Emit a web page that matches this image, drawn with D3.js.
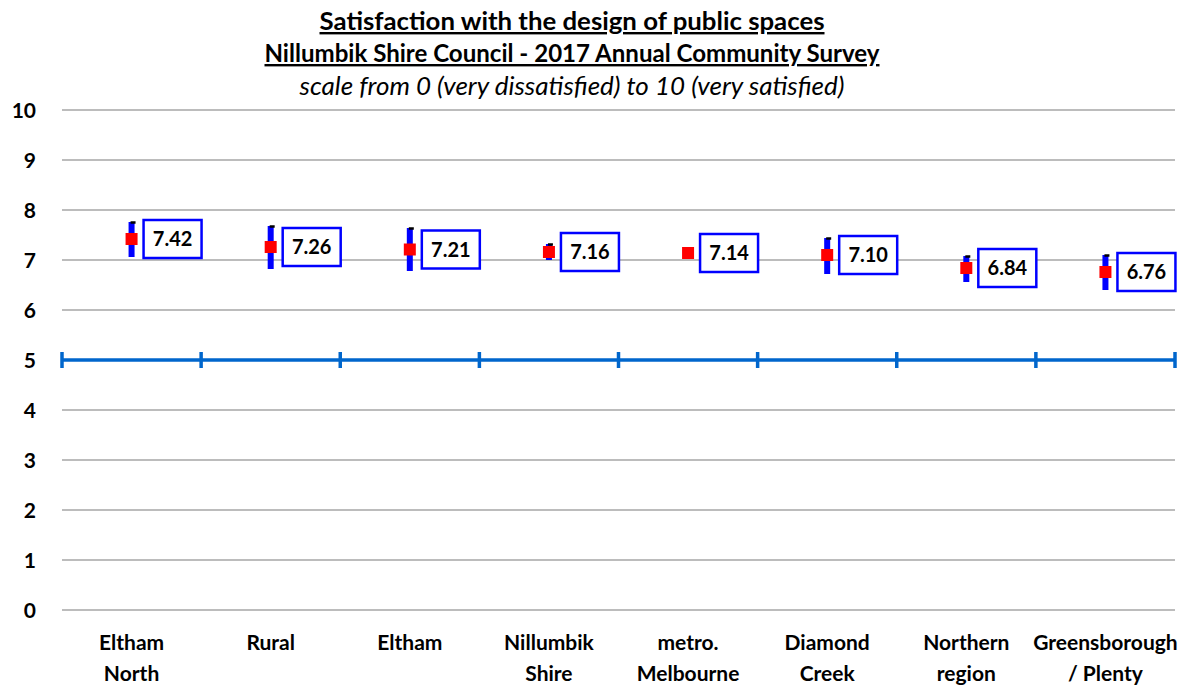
<!DOCTYPE html>
<html><head><meta charset="utf-8">
<script src="https://cdn.jsdelivr.net/npm/d3@7"></script>
<style>body{margin:0;background:#fff;} text{font-family:Lato,"Open Sans",sans-serif;}</style>
</head><body><svg id="c" width="1199" height="686"></svg>
<script>
const categories = [["Eltham","North"],["Rural"],["Eltham"],["Nillumbik","Shire"],["metro.","Melbourne"],["Diamond","Creek"],["Northern","region"],["Greensborough","/ Plenty"]];
const means = [7.42, 7.26, 7.21, 7.16, 7.14, 7.10, 6.84, 6.76];
const lows  = [7.06, 6.82, 6.78, 7.00, 7.06, 6.72, 6.56, 6.40];
const highs = [7.76, 7.68, 7.64, 7.32, 7.22, 7.44, 7.08, 7.10];
const yTicks = [0,1,2,3,4,5,6,7,8,9,10];
const benchmark = 5;
const titleLines = ["Satisfaction with the design of public spaces","Nillumbik Shire Council - 2017 Annual Community Survey"];
const subtitle = "scale from 0 (very dissatisfied) to 10 (very satisfied)";

const svg = d3.select("#c");
const pL = 62, pR = 1175, pT = 110, pB = 610;
const x = d3.scaleBand().domain(d3.range(categories.length)).range([pL, pR]).padding(0);
const y = d3.scaleLinear().domain([0,10]).range([pB, pT]);

// gridlines
svg.append("g").selectAll("line").data(yTicks).join("line")
  .attr("x1", pL).attr("x2", pR)
  .attr("y1", d=>y(d)).attr("y2", d=>y(d))
  .attr("stroke", "#a6a6a6").attr("stroke-width", 1.3);

// y axis labels
const yAxis = d3.axisLeft(y).tickValues(yTicks).tickSize(0).tickPadding(0);
const ya = svg.append("g").attr("transform", "translate(36,0)").call(yAxis);
ya.select(".domain").remove();
ya.selectAll("text").attr("font-size", 21).attr("font-weight", "bold").attr("fill", "#000")
  .style("font-family", "Lato, sans-serif").attr("dy", "0.35em");

// benchmark line
svg.append("line").attr("x1", pL).attr("x2", pR).attr("y1", y(benchmark)).attr("y2", y(benchmark))
  .attr("stroke", "#0066cc").attr("stroke-width", 3.5);
const bounds = d3.range(categories.length + 1).map(i => i < categories.length ? x(i) : pR);
svg.append("g").selectAll("line").data(bounds).join("line")
  .attr("x1", d=>d).attr("x2", d=>d).attr("y1", y(benchmark)-8).attr("y2", y(benchmark)+8)
  .attr("stroke", "#0066cc").attr("stroke-width", 3.5);

// error bars
const cx = i => x(i) + x.bandwidth()/2;
const g = svg.append("g");
means.forEach((m, i) => {
  g.append("rect").attr("x", cx(i)-3).attr("width", 6)
    .attr("y", y(highs[i])).attr("height", y(lows[i]) - y(highs[i])).attr("fill", "#0000ff");
  g.append("line").attr("x1", cx(i)-1).attr("x2", cx(i)+4)
    .attr("y1", y(highs[i])+0.5).attr("y2", y(highs[i])+0.5).attr("stroke", "#000").attr("stroke-width", 2.5);
  g.append("rect").attr("x", cx(i)-6).attr("y", y(m)-6).attr("width", 12).attr("height", 12).attr("fill", "#ff0000");
  g.append("rect").attr("x", cx(i)+12).attr("y", y(m)-19).attr("width", 58).attr("height", 38)
    .attr("fill", "#fff").attr("stroke", "#0000ff").attr("stroke-width", 2.5);
  g.append("text").attr("x", cx(i)+41).attr("y", y(m)).attr("dy", "0.36em").attr("text-anchor", "middle")
    .attr("font-size", 20).attr("font-weight", "bold").text(m.toFixed(2));
});

// x labels
const xl = svg.append("g");
categories.forEach((c, i) => {
  c.forEach((line, j) => {
    xl.append("text").attr("x", cx(i)).attr("y", 650 + j*31).attr("text-anchor", "middle")
      .attr("font-size", 21).attr("font-weight", "bold").text(line);
  });
});

// titles
titleLines.forEach((t, j) => {
  svg.append("text").attr("x", 572).attr("y", 30 + j*32).attr("text-anchor", "middle")
    .attr("font-size", 24).attr("font-weight", "bold").attr("text-decoration", "underline")
    .attr("textLength", j === 0 ? 505 : 615).attr("lengthAdjust", "spacingAndGlyphs").text(t);
});
svg.append("text").attr("x", 572).attr("y", 95).attr("text-anchor", "middle")
  .attr("font-size", 25).attr("font-style", "italic")
  .attr("textLength", 545).attr("lengthAdjust", "spacingAndGlyphs").text(subtitle);
</script></body></html>
